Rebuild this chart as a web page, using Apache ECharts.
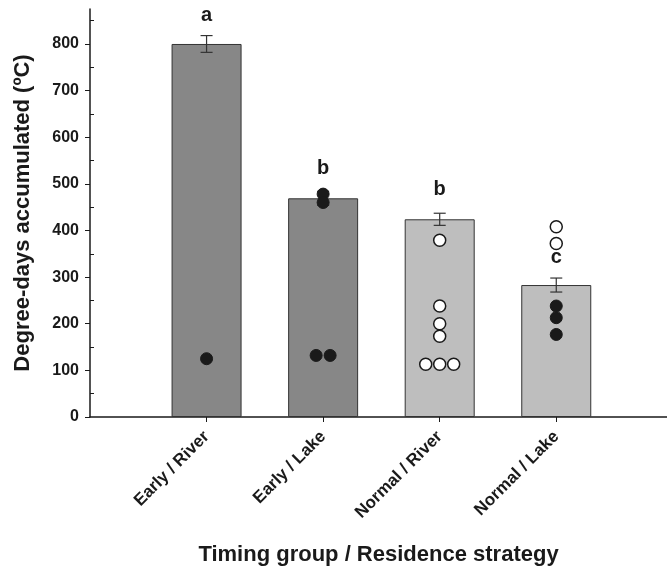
<!DOCTYPE html>
<html><head><meta charset="utf-8">
<script src="https://cdn.jsdelivr.net/npm/echarts@6/dist/echarts.min.js"></script>
<style>html,body{margin:0;padding:0;background:#fff}#c{width:667px;height:569px}</style>
</head><body><div id="c"></div>
<script>
const categories = ['Early / River', 'Early / Lake', 'Normal / River', 'Normal / Lake'];
const timing = ['Early', 'Early', 'Normal', 'Normal'];
const means = [800, 469, 424, 283];
const se = [18, 15, 13, 15];
const letters = ['a', 'b', 'b', 'c'];
const letterY = [861, 533, 488, 343];
// individual observations: group (1-based), value, horizontal jitter (category units), filled (1) / open (0)
const pointGroup  = [1,   2,   2,   2,    2,    3,   3,   3,   3,   3,     3,   3,    4,   4,   4,   4,   4];
const pointValue  = [125, 478, 460, 132,  132,  379, 238, 200, 173, 113,   113, 113,  408, 372, 238, 213, 177];
const pointJitter = [0,   0,   0,   -0.06, 0.06, 0,   0,   0,   0,   -0.12, 0,   0.12, 0,   0,   0,   0,   0];
const pointFilled = [1,   1,   1,   1,    1,    0,   0,   0,   0,   0,     0,   0,    0,   0,   1,   1,   1];
const yTicks = [0, 100, 200, 300, 400, 500, 600, 700, 800];
const yMinorTicks = [50, 150, 250, 350, 450, 550, 650, 750, 850];
const xTicks = [1, 2, 3, 4];

const INK = '#1a1a1a';
const FONT = '"Liberation Sans", Arial, sans-serif';
const timingColor = { Early: '#878787', Normal: '#bebebe' };

const barData = means.map((m, i) => ({
  value: [i + 1, m],
  itemStyle: { color: timingColor[timing[i]] }
}));
const errData = means.map((m, i) => [i + 1, m, se[i]]);
const pointData = pointValue.map((v, i) => ({
  value: [pointGroup[i] + pointJitter[i], v],
  itemStyle: pointFilled[i]
    ? { color: INK, borderColor: INK, borderWidth: 1, opacity: 1 }
    : { color: '#ffffff', borderColor: INK, borderWidth: 1.5, opacity: 1 }
}));
const letterData = letters.map((l, i) => [i + 1, letterY[i]]);

const chart = echarts.init(document.getElementById('c'), null, { renderer: 'canvas' });
chart.setOption({
  animation: false,
  backgroundColor: '#ffffff',
  grid: { left: 90, right: 0, top: 9, bottom: 152, containLabel: false, outerBoundsMode: 'none' },
  xAxis: {
    type: 'value', min: 0, max: 4.95,
    axisLine: { show: true, onZero: false, lineStyle: { color: INK, width: 1.5 } },
    axisTick: { show: true, customValues: xTicks, length: 5, lineStyle: { color: INK, width: 1 } },
    axisLabel: {
      customValues: xTicks, rotate: 45, margin: 17,
      formatter: v => categories[Math.round(v) - 1] || '',
      fontFamily: FONT, fontWeight: 'bold', fontSize: 17, color: INK
    },
    splitLine: { show: false },
    name: 'Timing group / Residence strategy', nameLocation: 'middle', nameGap: 127,
    nameTextStyle: { fontFamily: FONT, fontWeight: 'bold', fontSize: 22, color: INK }
  },
  yAxis: [{
    type: 'value', min: 0, max: 875, interval: 100,
    axisLine: { show: true, lineStyle: { color: INK, width: 1.5 } },
    axisTick: { show: true, customValues: yTicks, length: 5, lineStyle: { color: INK, width: 1 } },
    axisLabel: {
      customValues: yTicks, margin: 11,
      fontFamily: FONT, fontWeight: 'bold', fontSize: 16, color: INK
    },
    splitLine: { show: false },
    name: 'Degree-days accumulated (ºC)', nameLocation: 'middle', nameGap: 56,
    nameTextStyle: { fontFamily: FONT, fontWeight: 'bold', fontSize: 22, color: INK }
  }, {
    type: 'value', min: 0, max: 875, interval: 100, position: 'left',
    axisLine: { show: false },
    axisTick: { show: true, inside: true, customValues: yMinorTicks, length: 4, lineStyle: { color: INK, width: 1 } },
    axisLabel: { show: false },
    splitLine: { show: false }
  }],
  series: [{
    type: 'bar', data: barData, barWidth: 70,
    itemStyle: { borderColor: '#333333', borderWidth: 1 },
    z: 1
  }, {
    type: 'custom', data: errData, z: 3,
    renderItem: (params, api) => {
      const x = api.value(0), m = api.value(1), s = api.value(2);
      const top = api.coord([x, m + s]);
      const bot = api.coord([x, m - s]);
      const hw = 6;
      const st = { stroke: '#333333', lineWidth: 1.2 };
      return {
        type: 'group', children: [
          { type: 'line', shape: { x1: top[0], y1: top[1], x2: bot[0], y2: bot[1] }, style: st },
          { type: 'line', shape: { x1: top[0] - hw, y1: top[1], x2: top[0] + hw, y2: top[1] }, style: st },
          { type: 'line', shape: { x1: bot[0] - hw, y1: bot[1], x2: bot[0] + hw, y2: bot[1] }, style: st }
        ]
      };
    }
  }, {
    type: 'scatter', data: pointData, symbol: 'circle', symbolSize: 12, z: 4,
    itemStyle: { opacity: 1 }
  }, {
    type: 'scatter', data: letterData, symbolSize: 1, z: 5,
    itemStyle: { color: 'rgba(0,0,0,0)', opacity: 1 },
    label: {
      show: true, position: 'inside', opacity: 1,
      formatter: p => letters[p.dataIndex],
      fontFamily: FONT, fontWeight: 'bold', fontSize: 20, color: INK
    }
  }]
});
</script>
</body></html>
